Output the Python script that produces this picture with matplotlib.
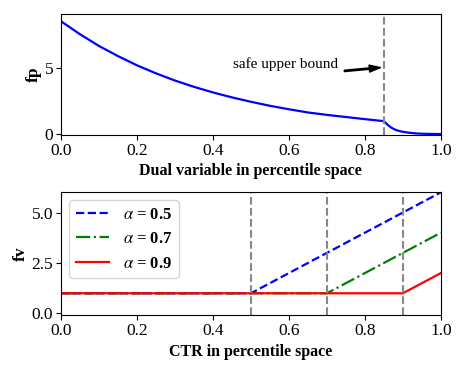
import matplotlib
matplotlib.use("Agg")
import matplotlib.pyplot as plt

plt.rcParams['font.family'] = ['Liberation Serif', 'DejaVu Serif']
plt.rcParams['mathtext.fontset'] = 'stix'

# Top panel: fp vs dual variable
dual_x = [0.0, 0.05, 0.1, 0.15, 0.2, 0.25, 0.3, 0.35, 0.4, 0.45, 0.5, 0.55, 0.6,
          0.65, 0.7, 0.75, 0.8, 0.85, 0.855, 0.86, 0.865, 0.87, 0.875, 0.88, 0.89,
          0.9, 0.917, 0.94, 0.96, 0.98, 1.0]
fp_y = [8.47, 7.5, 6.62, 5.86, 5.17, 4.57, 4.03, 3.56, 3.14, 2.77, 2.44, 2.14, 1.88,
        1.64, 1.46, 1.3, 1.14, 0.99, 0.85, 0.72, 0.6, 0.5, 0.42, 0.35, 0.26,
        0.19, 0.12, 0.06, 0.04, 0.03, 0.02]
safe_bound = 0.85

# Bottom panel: fv vs CTR
alphas = [0.5, 0.7, 0.9]
ctr_x = [[0.0, 0.5, 1.0], [0.0, 0.7, 1.0], [0.0, 0.9, 1.0]]
fv_y = [[1.0, 1.0, 6.0], [1.0, 1.0, 4.0], [1.0, 1.0, 2.0]]
labels = [r'$\alpha$ = 0.5', r'$\alpha$ = 0.7', r'$\alpha$ = 0.9']
colors = ['blue', 'green', 'red']
styles = ['--', '-.', '-']

fig = plt.figure(figsize=(4.65, 3.72), dpi=100)
ax1 = fig.add_axes([0.131, 0.637, 0.817, 0.325])
ax2 = fig.add_axes([0.131, 0.153, 0.817, 0.331])

ax1.plot(dual_x, fp_y, color='blue', lw=1.6)
ax1.axvline(safe_bound, color='#888888', ls='--', lw=1.5)
ax1.set_xlim(0, 1)
ax1.set_ylim(-0.05, 9.0)
ax1.set_yticks([0, 5])
ax1.set_xticks([0, 0.2, 0.4, 0.6, 0.8, 1.0])
ax1.set_xlabel('Dual variable in percentile space', fontweight='bold', fontsize=11.5, labelpad=3)
ax1.set_ylabel('fp', fontweight='bold', fontsize=12.5, labelpad=2)
ax1.text(0.453, 5.0, 'safe upper bound', fontsize=11, ha='left', va='baseline')
ax1.annotate('', xy=(0.841, 5.0), xytext=(0.746, 4.75),
             arrowprops=dict(facecolor='black', edgecolor='black', width=1.0,
                             headwidth=5, headlength=8, shrink=0))

for xs, ys, lab, c, s in zip(ctr_x, fv_y, labels, colors, styles):
    ax2.plot(xs, ys, color=c, ls=s, lw=1.6, label=lab)
for a in alphas:
    ax2.axvline(a, color='#888888', ls='--', lw=1.5)
ax2.set_xlim(0, 1)
ax2.set_ylim(-0.08, 6.02)
ax2.set_yticks([0, 2.5, 5.0])
ax2.set_yticklabels(['0.0', '2.5', '5.0'])
ax2.set_xticks([0, 0.2, 0.4, 0.6, 0.8, 1.0])
ax2.set_xlabel('CTR in percentile space', fontweight='bold', fontsize=11.5, labelpad=4)
ax2.set_ylabel('fv', fontweight='bold', fontsize=12.5, labelpad=2)
ax2.legend(loc='upper left', prop={'weight': 'bold', 'size': 12})

for ax in (ax1, ax2):
    ax.tick_params(labelsize=12.5, pad=2)

fig.savefig('out.png', dpi=100)
